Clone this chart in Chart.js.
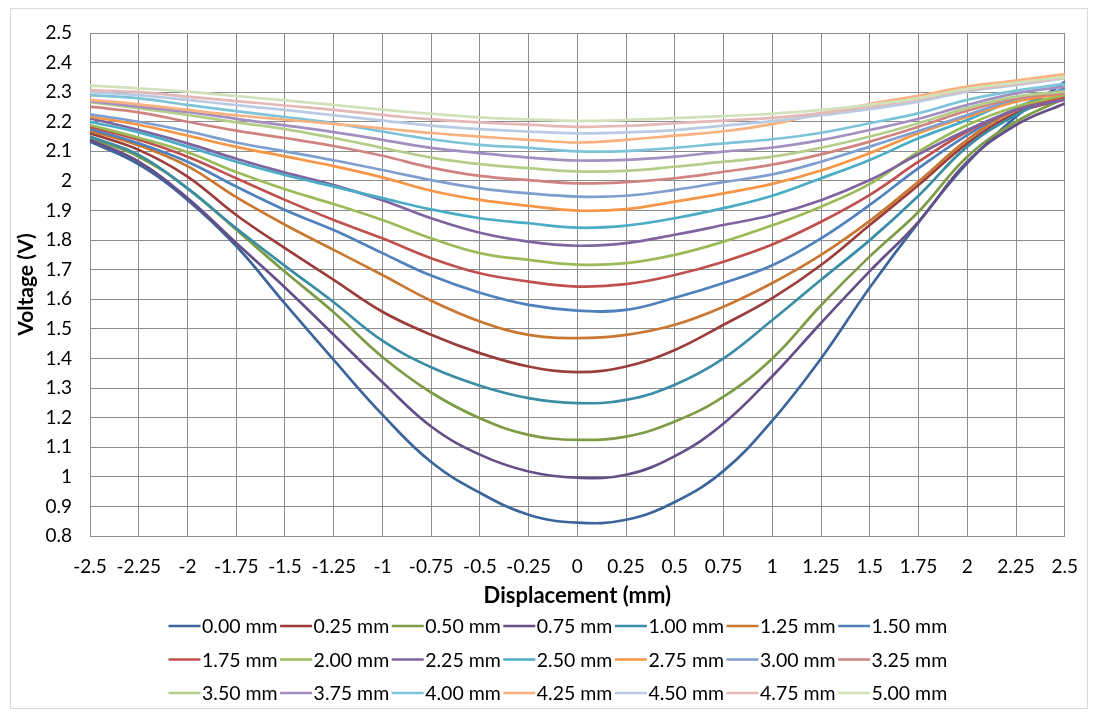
<!DOCTYPE html>
<html>
<head>
<meta charset="utf-8">
<title>Voltage vs Displacement</title>
<script src="https://cdn.jsdelivr.net/npm/chart.js@4.4.1/dist/chart.umd.min.js"></script>
<style>
  html, body { margin: 0; padding: 0; background: #ffffff; }
  #wrap { position: relative; width: 1097px; height: 713px; }
</style>
</head>
<body>
<div id="wrap"><canvas id="chart" width="1097" height="713"></canvas></div>
<script>
// Displacement positions (mm) along the x axis
const xCategories = ['-2.5','-2.25','-2','-1.75','-1.5','-1.25','-1','-0.75','-0.5','-0.25','0',
                     '0.25','0.5','0.75','1','1.25','1.5','1.75','2','2.25','2.5'];
const yTickLabels = ['0.8','0.9','1','1.1','1.2','1.3','1.4','1.5','1.6','1.7','1.8','1.9',
                     '2','2.1','2.2','2.3','2.4','2.5'];
const seriesNames = ['0.00 mm','0.25 mm','0.50 mm','0.75 mm','1.00 mm','1.25 mm','1.50 mm',
                     '1.75 mm','2.00 mm','2.25 mm','2.50 mm','2.75 mm','3.00 mm','3.25 mm',
                     '3.50 mm','3.75 mm','4.00 mm','4.25 mm','4.50 mm','4.75 mm','5.00 mm'];

// Sensor voltage (V) for each gap setting
const v000 = [2.133,2.056,1.936,1.780,1.585,1.395,1.210,1.050,0.946,0.872,0.845,0.855,0.915,1.020,1.190,1.400,1.640,1.860,2.060,2.217,2.335];
const v025 = [2.161,2.105,2.015,1.885,1.773,1.666,1.558,1.480,1.418,1.373,1.354,1.373,1.429,1.514,1.604,1.716,1.851,1.986,2.127,2.229,2.276];
const v050 = [2.144,2.082,1.975,1.835,1.693,1.556,1.405,1.285,1.198,1.142,1.125,1.136,1.187,1.271,1.400,1.580,1.745,1.896,2.082,2.200,2.279];
const v075 = [2.139,2.065,1.942,1.790,1.640,1.480,1.320,1.170,1.075,1.018,0.997,1.007,1.070,1.180,1.340,1.520,1.695,1.862,2.065,2.189,2.262];
const v100 = [2.150,2.088,1.975,1.840,1.713,1.590,1.460,1.370,1.308,1.266,1.249,1.260,1.311,1.400,1.530,1.666,1.800,1.950,2.116,2.223,2.300];
const v125 = [2.169,2.120,2.050,1.945,1.852,1.767,1.682,1.595,1.525,1.480,1.469,1.480,1.514,1.575,1.655,1.750,1.865,1.998,2.139,2.240,2.285];
const v150 = [2.176,2.127,2.065,1.981,1.902,1.834,1.756,1.680,1.622,1.581,1.562,1.564,1.605,1.655,1.715,1.806,1.919,2.043,2.155,2.246,2.313];
const v175 = [2.183,2.139,2.082,2.009,1.936,1.868,1.806,1.739,1.688,1.660,1.643,1.651,1.682,1.727,1.785,1.862,1.953,2.065,2.167,2.240,2.285];
const v200 = [2.189,2.146,2.097,2.030,1.972,1.922,1.868,1.806,1.756,1.733,1.717,1.722,1.750,1.795,1.850,1.913,1.990,2.099,2.189,2.251,2.290];
const v225 = [2.212,2.172,2.127,2.075,2.028,1.986,1.935,1.874,1.825,1.795,1.781,1.790,1.818,1.851,1.885,1.935,2.003,2.090,2.172,2.240,2.274];
const v250 = [2.200,2.164,2.116,2.065,2.020,1.981,1.942,1.904,1.874,1.857,1.842,1.849,1.874,1.908,1.950,2.009,2.071,2.144,2.206,2.274,2.307];
const v275 = [2.217,2.190,2.153,2.115,2.083,2.050,2.012,1.967,1.936,1.916,1.900,1.905,1.930,1.958,1.990,2.035,2.094,2.161,2.217,2.268,2.296];
const v300 = [2.225,2.200,2.168,2.130,2.100,2.070,2.037,2.003,1.975,1.958,1.947,1.950,1.970,1.996,2.022,2.065,2.116,2.169,2.223,2.276,2.305];
const v325 = [2.251,2.232,2.200,2.170,2.145,2.118,2.085,2.045,2.017,2.003,1.992,1.996,2.009,2.031,2.055,2.090,2.133,2.183,2.237,2.279,2.296];
const v350 = [2.266,2.246,2.223,2.198,2.175,2.145,2.112,2.079,2.057,2.043,2.032,2.034,2.048,2.065,2.082,2.112,2.150,2.195,2.246,2.285,2.302];
const v375 = [2.270,2.251,2.233,2.210,2.188,2.165,2.139,2.112,2.094,2.079,2.069,2.071,2.082,2.099,2.113,2.138,2.172,2.210,2.257,2.296,2.319];
const v400 = [2.290,2.279,2.257,2.236,2.216,2.195,2.167,2.141,2.122,2.112,2.100,2.101,2.112,2.127,2.141,2.163,2.195,2.229,2.274,2.305,2.328];
const v425 = [2.274,2.259,2.240,2.222,2.207,2.193,2.178,2.162,2.150,2.139,2.130,2.139,2.153,2.168,2.192,2.228,2.260,2.288,2.319,2.339,2.361];
const v450 = [2.300,2.290,2.274,2.256,2.240,2.222,2.204,2.187,2.175,2.167,2.161,2.164,2.172,2.187,2.202,2.222,2.243,2.268,2.302,2.324,2.347];
const v475 = [2.307,2.300,2.285,2.270,2.255,2.240,2.223,2.208,2.198,2.190,2.183,2.186,2.195,2.204,2.213,2.229,2.251,2.276,2.307,2.328,2.350];
const v500 = [2.322,2.313,2.302,2.287,2.272,2.257,2.241,2.227,2.215,2.208,2.203,2.206,2.212,2.219,2.227,2.240,2.257,2.280,2.311,2.332,2.352];

const seriesValues = [v000,v025,v050,v075,v100,v125,v150,v175,v200,v225,v250,v275,
                      v300,v325,v350,v375,v400,v425,v450,v475,v500];

// Office-style palette: dark shades, base accents, then two lighter tints
const seriesColors = ['#3C669B','#9B3E3B','#7E9B46','#654F87','#3A8DA4','#C97731',
                      '#4F81BD','#C0504D','#9BBB59','#8064A2','#4BACC6','#F79646',
                      '#7E9FD0','#D08482','#B3CE88','#A390C1','#7DC4D9','#F9B17F',
                      '#B9CAE3','#E3B8B7','#D1E1BA'];

const FONT = 'Lato, "Open Sans", "Liberation Sans", sans-serif';
const GRID = '#8C8C8C';

const datasets = seriesValues.map((vals, i) => ({
  label: seriesNames[i],
  data: vals,
  borderColor: seriesColors[i],
  backgroundColor: seriesColors[i],
  borderWidth: 2.7,
  pointRadius: 0,
  pointHoverRadius: 0,
  tension: 0.4,
  fill: false,
  order: seriesValues.length - i   // later series painted on top
}));

// White page and thin outer frame around the whole chart
const frame = {
  id: 'frame',
  beforeDraw(chart) {
    const ctx = chart.ctx;
    ctx.save();
    ctx.fillStyle = '#ffffff';
    ctx.fillRect(0, 0, chart.width, chart.height);
    ctx.strokeStyle = '#D9D9D9';
    ctx.lineWidth = 1;
    ctx.strokeRect(10.5, 8.5, 1077, 700);
    ctx.restore();
  }
};

// Legend below the axis: three rows of seven line-and-label entries
const lineLegend = {
  id: 'lineLegend',
  afterDraw(chart) {
    const ctx = chart.ctx;
    const perRow = 7, pitch = 111.6, lineLen = 32, x0 = 168.5;
    const rowY = [626, 659.5, 693];
    ctx.save();
    ctx.font = '19.5px ' + FONT;
    ctx.textBaseline = 'middle';
    ctx.textAlign = 'left';
    chart.data.datasets.forEach((ds, i) => {
      const r = Math.floor(i / perRow), c = i % perRow;
      const x = x0 + c * pitch, y = rowY[r];
      ctx.strokeStyle = ds.borderColor;
      ctx.lineWidth = 2.7;
      ctx.beginPath();
      ctx.moveTo(x, y);
      ctx.lineTo(x + lineLen, y);
      ctx.stroke();
      ctx.fillStyle = '#000000';
      ctx.fillText(ds.label, x + lineLen + 1.5, y + 1);
    });
    ctx.restore();
  }
};

new Chart(document.getElementById('chart'), {
  type: 'line',
  data: { labels: xCategories, datasets },
  plugins: [frame, lineLegend],
  options: {
    responsive: false,
    animation: false,
    events: [],
    layout: { padding: { left: 0, right: 29, top: 33, bottom: 102 } },
    plugins: { legend: { display: false }, tooltip: { enabled: false } },
    scales: {
      x: {
        type: 'category',
        offset: false,
        grid: { color: GRID, lineWidth: 1, drawTicks: false },
        border: { color: GRID, width: 1 },
        ticks: { color: '#000', font: { family: FONT, size: 19 }, padding: 19,
                 autoSkip: false, maxRotation: 0, minRotation: 0 },
        title: { display: true, text: 'Displacement (mm)', color: '#000',
                 font: { family: FONT, size: 22, weight: 'bold' },
                 padding: { top: 0, bottom: 2 } },
        afterFit(scale) { scale.height = 75; }
      },
      y: {
        type: 'linear',
        min: 0.8,
        max: 2.5,
        grid: { color: GRID, lineWidth: 1, drawTicks: false },
        border: { color: GRID, width: 1 },
        ticks: { stepSize: 0.1, color: '#000', font: { family: FONT, size: 19 }, padding: 18,
                 callback: (value, index) => yTickLabels[index] },
        title: { display: true, text: 'Voltage (V)', color: '#000',
                 font: { family: FONT, size: 21, weight: 'bold' },
                 padding: { top: 14, bottom: 0 } },
        afterFit(scale) { scale.width = 90; }
      }
    }
  }
});
</script>
</body>
</html>
